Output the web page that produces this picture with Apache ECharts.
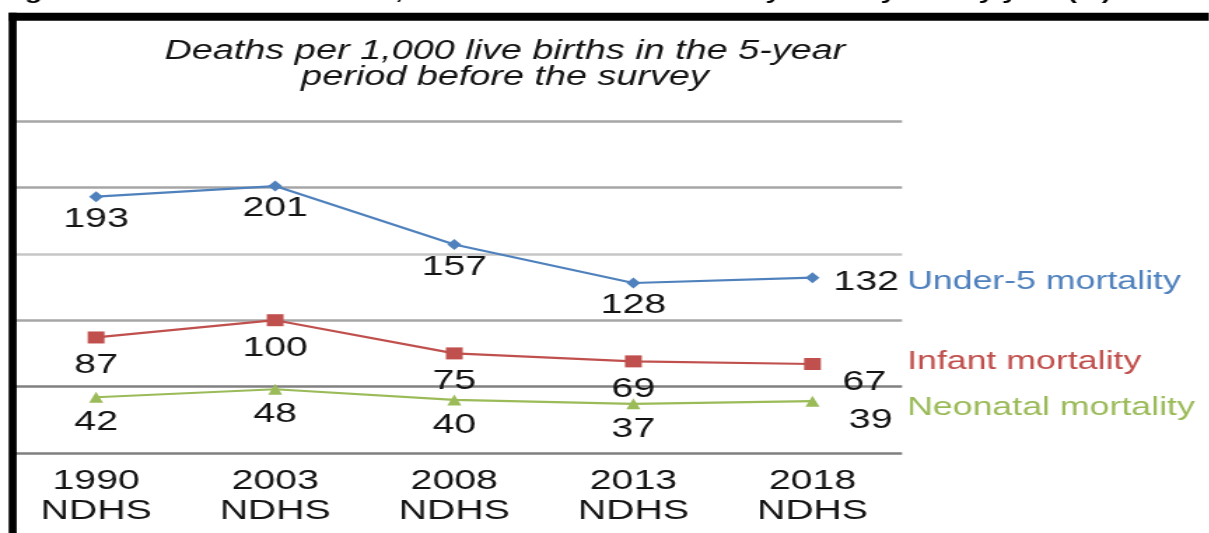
<!DOCTYPE html>
<html>
<head>
<meta charset="utf-8">
<script src="https://cdn.jsdelivr.net/npm/echarts@6/dist/echarts.min.js"></script>
<style>
  html, body { margin: 0; padding: 0; background: #fff; overflow: hidden; }
  /* The figure is laid out narrow and widened to fill the page */
  #chart { width: 863.57px; height: 533px; transform: scaleX(1.4); transform-origin: 0 0; }
</style>
</head>
<body>
<div id="chart"></div>
<script>
// Survey years and survey name shown under the x axis
const surveyYears = ['1990', '2003', '2008', '2013', '2018'];
const surveyName = 'NDHS';

// Deaths per 1,000 live births
const under5 = [193, 201, 157, 128, 132];
const infant = [87, 100, 75, 69, 67];
const neonatal = [42, 48, 40, 37, 39];

const seriesNames = ['Under-5 mortality', 'Infant mortality', 'Neonatal mortality'];
const yTicks = [0, 50, 100, 150, 200, 250];

const FONT = '"Liberation Sans", Arial, sans-serif';
const BLUE = '#4f81bd', RED = '#c0504d', GREEN = '#9bbb59';

function points(values, lastOffset) {
  return values.map((v, i) => {
    const item = { value: [i, v] };
    if (i === values.length - 1) {
      item.label = { position: 'right', offset: lastOffset };
    }
    return item;
  });
}

function series(name, values, color, symbol, symbolSize, distance, lastOffset) {
  return {
    name: name,
    type: 'line',
    data: points(values, lastOffset),
    symbol: symbol,
    symbolSize: symbolSize,
    lineStyle: { color: color, width: 2.2 },
    itemStyle: { color: color },
    label: {
      show: true,
      position: 'bottom',
      distance: distance,
      fontSize: 28,
      fontFamily: FONT,
      color: '#141414',
      formatter: p => String(p.value[1])
    },
    emphasis: { disabled: true },
    z: 3
  };
}

const chart = echarts.init(document.getElementById('chart'));
chart.setOption({
  animation: false,
  backgroundColor: '#fff',
  grid: { left: 11.07, right: 219.7, top: 121, bottom: 80 },
  xAxis: {
    type: 'value',
    min: -0.45,
    max: 4.5,
    axisLine: { show: false },
    axisTick: { show: false },
    splitLine: { show: false },
    axisLabel: {
      customValues: surveyYears.map((_, i) => i),
      formatter: v => surveyYears[Math.round(v)] + '\n' + surveyName,
      fontSize: 28,
      lineHeight: 30,
      margin: 13,
      fontFamily: FONT,
      color: '#141414'
    }
  },
  yAxis: {
    type: 'value',
    min: yTicks[0],
    max: yTicks[yTicks.length - 1],
    interval: 50,
    axisLine: { show: false },
    axisTick: { show: false },
    axisLabel: { show: false },
    splitLine: {
      lineStyle: {
        color: ['#7f7f7f', '#808080', '#a6a6a6', '#c6c6c6', '#a6a6a6', '#a6a6a6'],
        width: 2.5
      }
    }
  },
  series: [
    series(seriesNames[0], under5, BLUE, 'diamond', [10, 11], 3, [7, 5]),
    series(seriesNames[1], infant, RED, 'rect', [12, 12], 8, [7.5, 18]),
    series(seriesNames[2], neonatal, GREEN, 'triangle', [10, 11], 6, [15, 19])
  ],
  graphic: [
    // frame edges
    { type: 'rect', shape: { x: 6.2, y: 12.7, width: 857.4, height: 8 }, style: { fill: '#000' }, z: 10 },
    { type: 'rect', shape: { x: 6.2, y: 12.7, width: 5.7, height: 530 }, style: { fill: '#000' }, z: 10 },
    // figure heading, running off the top edge
    {
      type: 'text', x: 0, y: 3, z: 10,
      style: {
        text: 'Figure 8.1  Trends in neonatal, infant and under-5 mortality rates by survey year (%)',
        font: 'bold 20px ' + FONT,
        fill: '#000',
        verticalAlign: 'bottom'
      }
    },
    // measure description
    {
      type: 'text', x: 360.7, y: 64, z: 10,
      style: {
        text: 'Deaths per 1,000 live births in the 5-year\nperiod before the survey',
        font: 'italic 27px ' + FONT,
        lineHeight: 26,
        fill: '#141414',
        align: 'center',
        verticalAlign: 'middle'
      }
    },
    // series names at the line ends
    { type: 'text', x: 647.9, y: 282, z: 10,
      style: { text: seriesNames[0], font: '25.5px ' + FONT, fill: BLUE, verticalAlign: 'middle' } },
    { type: 'text', x: 647.9, y: 362, z: 10,
      style: { text: seriesNames[1], font: '25.5px ' + FONT, fill: RED, verticalAlign: 'middle' } },
    { type: 'text', x: 647.9, y: 408, z: 10,
      style: { text: seriesNames[2], font: '25.5px ' + FONT, fill: GREEN, verticalAlign: 'middle' } }
  ]
});
</script>
</body>
</html>
